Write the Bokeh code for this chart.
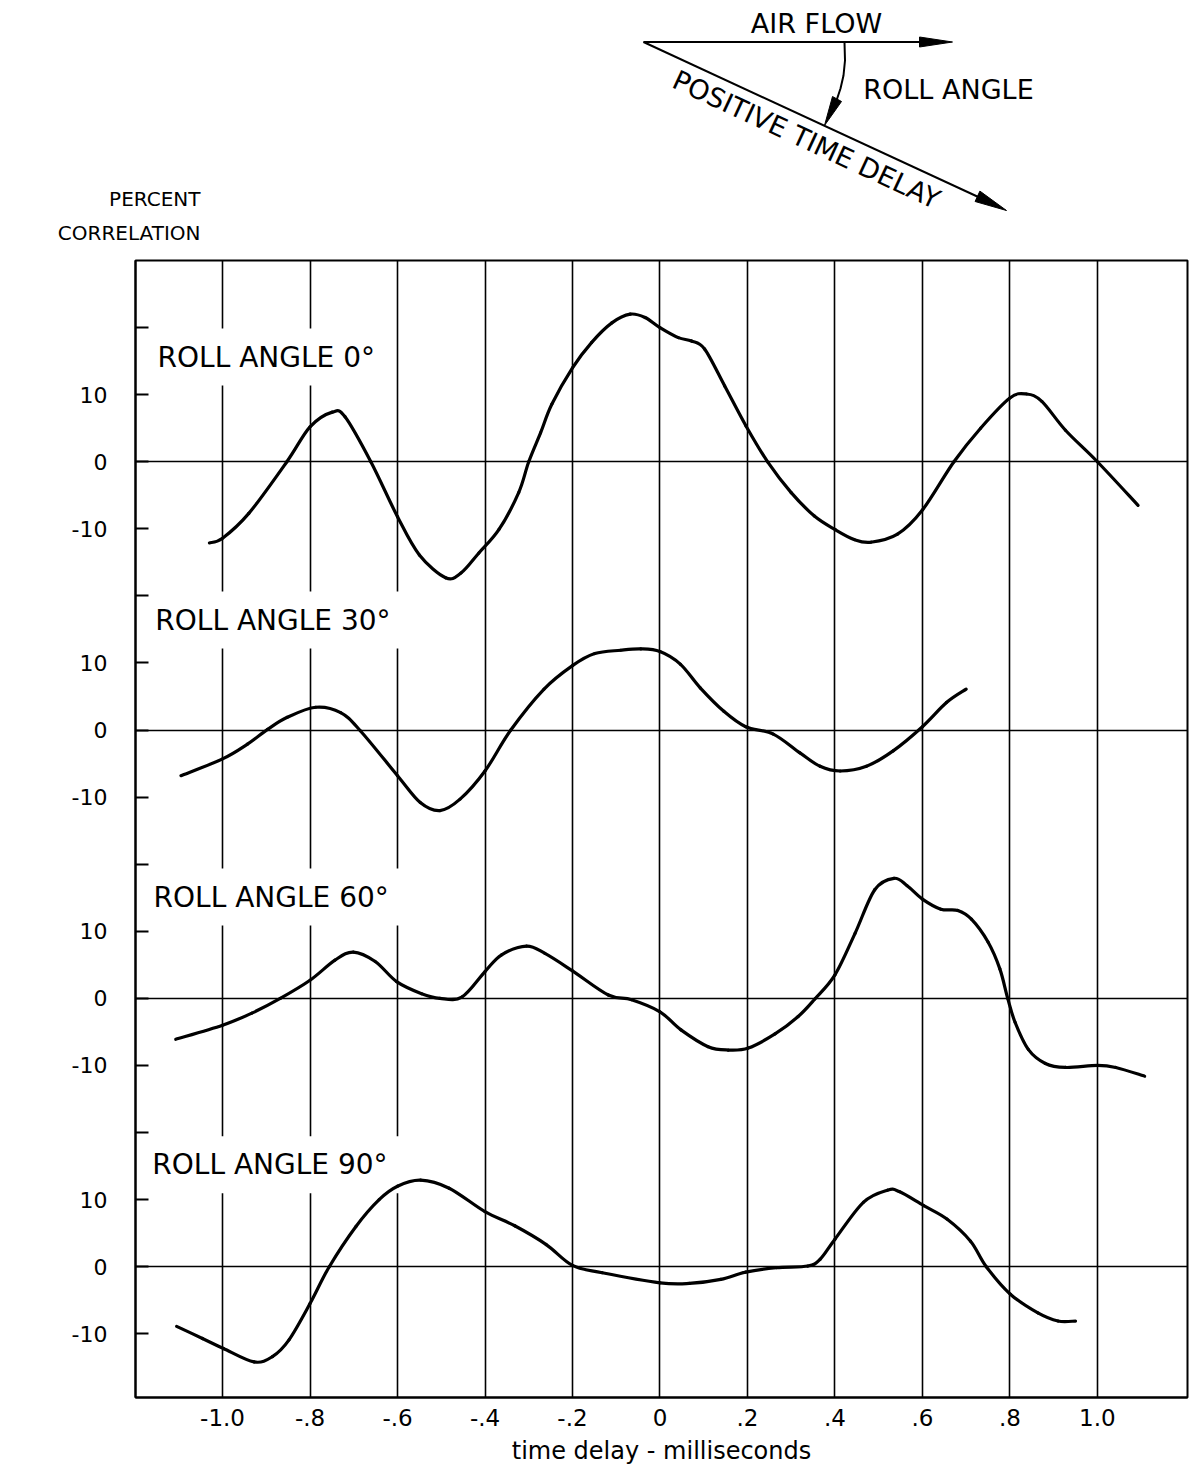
import math
from bokeh.plotting import figure
from bokeh.models import Label, FixedTicker, Range1d, LinearAxis
from bokeh.layouts import column
from bokeh.embed import file_html
from bokeh.resources import INLINE

FONT = "DejaVu Sans"

# ---------------- data (time delay in ms, percent correlation) ----------------
roll_angles = ["0°", "30°", "60°", "90°"]
panel_offsets = [0, -40, -80, -120]          # vertical shift of each panel's zero line

x_0 = [-1.03, -1.0, -0.94, -0.853, -0.8, -0.749, -0.72, -0.661, -0.6, -0.55, -0.49, -0.455,
       -0.414, -0.368, -0.323, -0.3, -0.273, -0.247, -0.2, -0.156, -0.11, -0.068, -0.034, 0.0,
       0.042, 0.072, 0.102, 0.148, 0.197, 0.247, 0.3, 0.353, 0.4, 0.444, 0.482, 0.543, 0.6,
       0.672, 0.733, 0.8, 0.838, 0.873, 0.927, 1.0, 1.093]
y_0 = [-12.1, -11.4, -7.7, 0.0, 5.2, 7.4, 6.7, 0.0, -8.2, -13.9, -17.3, -16.6,
       -13.6, -10.1, -4.6, 0.0, 4.3, 8.6, 14.0, 17.8, 20.7, 22.0, 21.5, 20.0,
       18.5, 18.0, 16.8, 11.3, 5.3, -0.1, -4.6, -8.1, -10.1, -11.6, -12.0, -10.8, -7.2,
       0.0, 5.0, 9.5, 10.1, 9.0, 4.7, 0.0, -6.5]

x_30 = [-1.095, -1.0, -0.943, -0.897, -0.852, -0.787, -0.73, -0.685, -0.6, -0.548, -0.503,
        -0.457, -0.4, -0.341, -0.265, -0.2, -0.149, -0.09, -0.044, 0.0, 0.047, 0.092, 0.146,
        0.196, 0.259, 0.32, 0.366, 0.412, 0.472, 0.533, 0.6, 0.655, 0.7]
y_30 = [-6.8, -4.3, -2.1, 0.1, 1.9, 3.4, 2.6, -0.1, -6.8, -10.8, -12.0,
        -10.3, -6.1, 0.0, 6.1, 9.6, 11.4, 11.9, 12.1, 11.7, 9.8, 6.3, 2.8,
        0.5, -0.6, -3.4, -5.4, -6.1, -5.4, -3.1, 0.5, 4.1, 6.1]

x_60 = [-1.107, -1.0, -0.933, -0.868, -0.8, -0.743, -0.701, -0.651, -0.602, -0.545, -0.503,
        -0.453, -0.4, -0.362, -0.305, -0.263, -0.2, -0.118, -0.065, 0.0, 0.048, 0.11, 0.156,
        0.202, 0.263, 0.316, 0.354, 0.4, 0.446, 0.491, 0.535, 0.565, 0.6, 0.642, 0.681, 0.712,
        0.75, 0.777, 0.795, 0.812, 0.842, 0.881, 0.927, 1.0, 1.042, 1.108]
y_60 = [-6.1, -4.0, -2.2, 0.0, 2.7, 5.7, 6.9, 5.5, 2.5, 0.7, 0.0,
        0.2, 4.0, 6.5, 7.8, 6.7, 4.1, 0.5, -0.2, -2.0, -4.7, -7.2, -7.7,
        -7.4, -5.3, -2.7, -0.1, 3.5, 9.7, 16.2, 17.9, 16.8, 14.8, 13.3, 13.1, 11.8,
        8.4, 4.4, 0.0, -3.6, -7.6, -9.7, -10.3, -10.0, -10.3, -11.6]

x_90 = [-1.105, -1.046, -0.998, -0.928, -0.886, -0.848, -0.8, -0.756, -0.695, -0.642, -0.6,
        -0.547, -0.482, -0.4, -0.332, -0.26, -0.2, -0.132, 0.0, 0.067, 0.139, 0.196, 0.266,
        0.338, 0.366, 0.4, 0.465, 0.52, 0.547, 0.603, 0.656, 0.71, 0.746, 0.801, 0.864, 0.91,
        0.95]
y_90 = [-8.9, -10.7, -12.2, -14.2, -13.4, -10.9, -5.5, 0.0, 6.0, 10.0, 12.0,
        12.9, 11.7, 8.2, 6.1, 3.3, 0.2, -0.9, -2.4, -2.5, -1.9, -0.8, -0.15,
        0.1, 1.1, 4.1, 9.6, 11.4, 11.2, 9.1, 7.1, 3.8, 0.0, -4.1, -6.9, -8.1,
        -8.1]

series_x = [x_0, x_30, x_60, x_90]
series_y = [y_0, y_30, y_60, y_90]

x_ticks = [-1.0, -0.8, -0.6, -0.4, -0.2, 0.0, 0.2, 0.4, 0.6, 0.8, 1.0]
x_tick_labels = ["-1.0", "-.8", "-.6", "-.4", "-.2", "0", ".2", ".4", ".6", ".8", "1.0"]
y_rel_ticks = [20, 10, 0, -10]
y_rel_labels = ["", "10", "0", "-10"]
y_title_lines = ["PERCENT", "CORRELATION"]

# label placement (box corner, relative to each panel zero)
label_x = [-1.176, -1.181, -1.185, -1.188]
label_y = [15.6, 16.4, 15.1, 15.2]

# ---------------- layout constants ----------------
PAGE_W = 1191
FRAME_L = 135
FRAME_W = 1052
FRAME_R = PAGE_W - FRAME_L - FRAME_W
TOP_H = 254

# ---------------- top diagram (page pixel coordinates) ----------------
air_line_x = [643, 924]
air_line_y = [41.5, 41.5]
air_head_x = [952, 919, 919]
air_head_y = [41.5, 36.5, 46.5]

delay_line_x = [643, 980]
delay_line_y = [41.5, 197.5]
delay_head_x = [1006, 974.6, 979.4]
delay_head_y = [210, 201.0, 190.6]

roll_curve_x = [844, 844.5, 843, 840, 836]
roll_curve_y = [42, 60, 75, 88, 100]
roll_head_x = [824, 832, 841]
roll_head_y = [125, 96, 101]

top_texts = ["AIR FLOW", "ROLL ANGLE", "POSITIVE TIME DELAY"]
top_text_x = [816, 948, 806]
top_text_y = [23, 89, 139]
top_text_angle = [0, 0, -math.atan2(168.5, 363)]

y_title_py = [198, 232]      # page rows of the y-axis heading lines


def fx(v):
    return [a - FRAME_L for a in v]


def fy(v):
    return [TOP_H - a for a in v]


top = figure(frame_width=FRAME_W, frame_height=TOP_H,
             x_range=Range1d(0, FRAME_W), y_range=Range1d(0, TOP_H),
             output_backend="svg", toolbar_location=None, x_axis_type=None, y_axis_type=None,
             min_border_left=FRAME_L, min_border_right=FRAME_R, min_border_top=0,
             min_border_bottom=0, outline_line_color=None)
top.line(fx(air_line_x), fy(air_line_y), line_color="black", line_width=2)
top.line(fx(delay_line_x), fy(delay_line_y), line_color="black", line_width=2)
top.line(fx(roll_curve_x), fy(roll_curve_y), line_color="black", line_width=2)
top.patches([fx(air_head_x), fx(delay_head_x), fx(roll_head_x)],
            [fy(air_head_y), fy(delay_head_y), fy(roll_head_y)],
            fill_color="black", line_color="black", line_width=1)
for t, tx, ty, ta in zip(top_texts, fx(top_text_x), fy(top_text_y), top_text_angle):
    top.add_layout(Label(x=tx, y=ty, text=t, angle=ta, angle_units="rad", text_font=FONT,
                         text_font_size="27px", text_color="black", text_align="center",
                         text_baseline="middle"))

# y-axis heading ("PERCENT / CORRELATION") drawn as the labels of a bare left axis
title_ticks = fy(y_title_py)
title_axis = LinearAxis(ticker=FixedTicker(ticks=title_ticks),
                        major_label_overrides=dict(zip(title_ticks, y_title_lines)),
                        axis_line_color=None, major_tick_line_color=None,
                        minor_tick_line_color=None, major_tick_in=0, major_tick_out=0,
                        major_label_standoff=-65, major_label_text_font=FONT,
                        major_label_text_font_size="20px", major_label_text_color="black")
top.add_layout(title_axis, "left")

# ---------------- main chart ----------------
p = figure(frame_width=FRAME_W, frame_height=1137,
           x_range=Range1d(-1.199, 1.206), y_range=Range1d(-139.5, 30.0),
           output_backend="svg", toolbar_location=None,
           min_border_left=FRAME_L, min_border_right=FRAME_R, min_border_top=6,
           min_border_bottom=10)
p.outline_line_color = "black"
p.outline_line_width = 2
p.background_fill_color = "white"

p.xgrid.ticker = FixedTicker(ticks=x_ticks)
p.xgrid.grid_line_color = "black"
p.xgrid.grid_line_width = 1.6
p.ygrid.ticker = FixedTicker(ticks=panel_offsets)
p.ygrid.grid_line_color = "black"
p.ygrid.grid_line_width = 1.6


def smooth_segments(xs, ys):
    """Catmull-Rom rendering of the read points as cubic Bezier pieces."""
    n = len(xs)
    out = dict(x0=[], y0=[], x1=[], y1=[], cx0=[], cy0=[], cx1=[], cy1=[])
    for i in range(n - 1):
        a = max(i - 1, 0)
        d = min(i + 2, n - 1)
        out["x0"].append(xs[i]); out["y0"].append(ys[i])
        out["x1"].append(xs[i + 1]); out["y1"].append(ys[i + 1])
        out["cx0"].append(xs[i] + (xs[i + 1] - xs[a]) / 6.0)
        out["cy0"].append(ys[i] + (ys[i + 1] - ys[a]) / 6.0)
        out["cx1"].append(xs[i + 1] - (xs[d] - xs[i]) / 6.0)
        out["cy1"].append(ys[i + 1] - (ys[d] - ys[i]) / 6.0)
    return out


for xs, ys, off in zip(series_x, series_y, panel_offsets):
    seg = smooth_segments(xs, [v + off for v in ys])
    p.bezier(source=seg, x0="x0", y0="y0", x1="x1", y1="y1", cx0="cx0", cy0="cy0",
             cx1="cx1", cy1="cy1", line_color="black", line_width=3.2, line_cap="round")

# x axis
p.xaxis.ticker = FixedTicker(ticks=x_ticks)
p.xaxis.major_label_overrides = dict(zip(x_ticks, x_tick_labels))
p.xaxis.major_tick_in = 0
p.xaxis.major_tick_out = 0
p.xaxis.minor_tick_line_color = None
p.xaxis.axis_line_width = 2
p.xaxis.major_label_text_font = FONT
p.xaxis.major_label_text_font_size = "23px"
p.xaxis.major_label_text_color = "black"
p.xaxis.major_label_standoff = 11
p.xaxis.axis_label = "time delay - milliseconds"
p.xaxis.axis_label_text_font = FONT
p.xaxis.axis_label_text_font_style = "normal"
p.xaxis.axis_label_text_font_size = "24px"
p.xaxis.axis_label_text_color = "black"
p.xaxis.axis_label_standoff = 8

# y axis: every panel has ticks 20 (unlabelled), 10, 0, -10
y_ticks, y_over = [], {}
for off in panel_offsets:
    for rt, lab in zip(y_rel_ticks, y_rel_labels):
        y_ticks.append(off + rt)
        y_over[off + rt] = lab
p.yaxis.ticker = FixedTicker(ticks=y_ticks)
p.yaxis.major_label_overrides = y_over
p.yaxis.major_tick_in = 13
p.yaxis.major_tick_out = 0
p.yaxis.major_tick_line_width = 2
p.yaxis.minor_tick_line_color = None
p.yaxis.axis_line_width = 2
p.yaxis.major_label_text_font = FONT
p.yaxis.major_label_text_font_size = "22px"
p.yaxis.major_label_text_color = "black"
p.yaxis.major_label_standoff = 28

for ang, off, lx, ly in zip(roll_angles, panel_offsets, label_x, label_y):
    p.add_layout(Label(x=lx, y=off + ly, text=f"ROLL ANGLE {ang}", text_font=FONT,
                       text_font_size="28px", text_color="black", text_baseline="middle",
                       background_fill_color="white", border_line_color=None, padding=12,
                       level="underlay"))

layout = column(top, p, spacing=0)
open("out.html", "w").write(file_html(layout, INLINE))
